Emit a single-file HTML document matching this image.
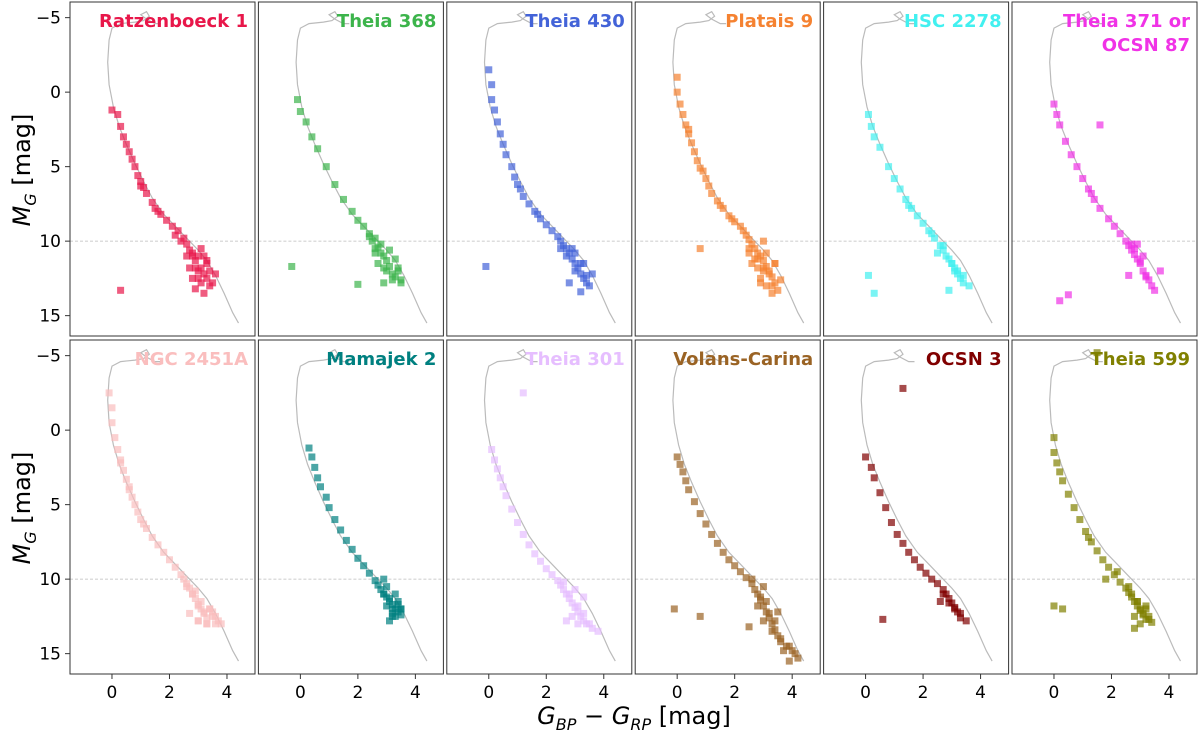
<!DOCTYPE html>
<html><head><meta charset="utf-8"><style>
body{margin:0;background:#fff;}
svg{display:block;font-family:"DejaVu Sans","Liberation Sans",sans-serif;}
</style></head><body>
<svg id="chart" width="1200" height="734" viewBox="0 0 1200 734">
<text x="30" y="170" font-size="24" transform="rotate(-90 30 170)" text-anchor="middle"><tspan font-style="italic">M</tspan><tspan font-style="italic" font-size="16" dy="6">G</tspan><tspan dy="-6"> [mag]</tspan></text>
<text x="30" y="508" font-size="24" transform="rotate(-90 30 508)" text-anchor="middle"><tspan font-style="italic">M</tspan><tspan font-style="italic" font-size="16" dy="6">G</tspan><tspan dy="-6"> [mag]</tspan></text>
<text x="634" y="724" font-size="24" text-anchor="middle"><tspan font-style="italic">G</tspan><tspan font-style="italic" font-size="16" dy="6">BP</tspan><tspan dy="-6"> − </tspan><tspan font-style="italic">G</tspan><tspan font-style="italic" font-size="16" dy="6">RP</tspan><tspan dy="-6"> [mag]</tspan></text>
</svg>
<script>
const clusterNames=["Ratzenboeck 1","Theia 368","Theia 430","Platais 9","HSC 2278","Theia 371 or|OCSN 87","NGC 2451A","Mamajek 2","Theia 301","Volans-Carina","OCSN 3","Theia 599"];
const clusterColors=["#e8174a","#3cb44b","#4363d8","#f58231","#42f0f0","#f032e6","#fabebe","#008080","#e6beff","#9a6324","#800000","#808000"];
const xTicks=[0,2,4];
const yTicks=[-5,0,5,10,15];
const isoX=[4.4,4.2,3.9,3.6,3.3,3.0,2.6,2.2,1.8,1.4,1.1,0.8,0.5,0.25,0.05,-0.1,-0.15,-0.1,0.0,0.3,0.8,1.1,1.3,1.2,1.0,1.2,1.5,1.7];
const isoM=[15.5,14.8,13.5,12.3,11.3,10.6,9.8,9.0,8.2,7.1,6.0,4.8,3.5,2.3,1.0,-0.5,-2.0,-3.5,-4.3,-4.6,-4.7,-4.8,-5.1,-5.4,-5.2,-4.9,-4.6,-4.6];
const bpRp=[
[0.0,0.2,0.3,0.4,0.5,0.6,0.7,0.8,0.9,1.0,1.1,1.2,1.4,1.5,1.7,1.9,2.1,2.3,2.4,2.6,2.7,2.8,2.9,3.0,3.0,3.1,3.2,3.3,3.4,3.5,2.9,3.2,3.6,3.3,3.1,2.7,0.3,2.5,2.8,3.4,2.6,2.9,3.1,3.3,3.0,2.8,3.2,1.0,1.6,2.2],
[-0.1,0.0,0.2,0.4,0.6,0.9,1.2,1.5,1.8,2.0,2.2,2.4,2.5,2.6,2.7,2.8,2.9,3.0,3.0,3.1,3.2,3.3,3.4,3.5,2.7,3.1,3.3,2.9,-0.3,2.0,3.5,2.6,2.6,2.9,3.2,3.4,2.4,2.8],
[0.0,0.1,0.1,0.2,0.3,0.4,0.5,0.6,0.8,0.9,1.0,1.2,1.4,1.6,1.8,2.0,2.2,2.4,2.5,2.6,2.7,2.8,2.9,3.0,3.0,3.1,3.2,3.3,3.4,3.5,2.8,3.2,3.3,-0.1,2.9,3.6,2.7,3.0,3.2,3.4,2.5,1.1,1.7],
[0.0,0.0,0.1,0.2,0.3,0.4,0.5,0.6,0.7,0.8,1.0,1.1,1.2,1.4,1.6,1.8,2.0,2.2,2.3,2.4,2.5,2.6,2.7,2.8,2.9,3.0,3.0,3.1,3.2,3.3,3.4,3.5,2.7,2.9,3.1,3.3,3.6,0.8,2.5,3.4,2.8,3.0,2.5,2.8,3.0,3.2,3.4,3.1,2.9,3.3,2.6,1.5,1.9,0.4,0.9],
[0.1,0.2,0.3,0.5,0.8,1.0,1.2,1.4,1.6,1.8,2.0,2.2,2.4,2.6,2.7,2.8,2.9,3.0,3.1,3.2,3.3,3.4,3.6,2.9,3.1,0.1,0.3,2.5,2.7,3.0,3.2,3.4,2.3,1.5],
[0.0,0.1,0.2,0.4,0.6,0.8,1.0,1.2,1.4,1.6,1.9,2.1,2.3,2.5,2.6,2.7,2.8,2.9,3.0,3.1,3.2,3.3,3.4,3.5,2.9,3.1,0.2,0.5,1.6,2.6,3.7,2.8,3.0,3.2,2.7,1.3],
[-0.1,0.0,0.0,0.1,0.2,0.3,0.4,0.5,0.6,0.7,0.8,0.9,1.0,1.2,1.4,1.6,1.8,2.0,2.2,2.4,2.5,2.6,2.7,2.8,2.9,3.0,3.1,3.2,3.3,3.4,3.5,3.6,3.7,2.9,3.1,3.3,3.5,2.7,3.0,2.8,3.0,3.2,3.4,3.6,3.3,3.0,2.6,1.1,0.3,0.6,3.8],
[0.3,0.4,0.5,0.6,0.7,0.9,1.0,1.2,1.4,1.6,1.8,2.0,2.2,2.4,2.6,2.7,2.8,2.9,3.0,3.1,3.2,3.3,3.4,3.5,3.0,3.2,3.4,3.1,3.3,2.9,3.5,3.2,3.2,3.4,3.3,3.1,3.5,2.9,3.0],
[0.1,0.2,0.3,0.4,0.5,0.6,0.8,1.0,1.2,1.4,1.6,1.8,2.0,2.2,2.4,2.5,2.6,2.7,2.8,2.9,3.0,3.1,3.2,3.3,3.4,3.6,2.9,3.1,3.3,3.8,1.2,2.7,2.8,3.1,3.3,3.5,3.0,2.6],
[0.0,0.1,0.2,0.3,0.4,0.6,0.8,1.0,1.2,1.4,1.6,1.8,2.0,2.2,2.4,2.6,2.7,2.8,2.9,3.0,3.1,3.2,3.3,3.4,3.5,3.6,3.8,4.0,4.2,3.0,3.3,3.7,3.9,2.9,-0.1,0.8,2.5,3.5,3.1,3.4,3.6,3.9,4.1,2.8,3.2,3.0,2.6],
[0.0,0.2,0.3,0.5,0.7,0.9,1.1,1.3,1.5,1.7,1.9,2.1,2.3,2.5,2.7,2.8,2.9,3.0,3.1,3.2,3.3,3.5,1.3,0.6,2.6,2.9,3.1,3.3,2.7],
[0.0,0.0,0.1,0.2,0.3,0.5,0.7,0.9,1.1,1.3,1.5,1.7,1.9,2.1,2.3,2.5,2.6,2.7,2.8,2.9,3.0,3.1,3.2,3.3,3.4,2.8,3.0,3.2,2.9,1.5,0.0,0.3,1.8,2.7,2.9,3.1,3.3,3.0,2.6,2.8,3.2,1.2,2.2]
];
const mG=[
[1.2,1.5,2.3,3.0,3.5,4.0,4.5,5.0,5.6,6.0,6.4,6.8,7.4,7.8,8.2,8.6,9.0,9.3,10.0,10.2,10.6,11.0,11.3,11.0,12.0,11.8,12.2,12.5,12.0,12.8,13.2,13.5,12.2,11.5,10.5,11.8,13.3,9.8,12.5,13.0,11.0,11.8,12.8,11.3,12.5,10.8,11.0,6.3,8.0,9.6],
[0.5,1.3,2.0,3.0,3.8,5.0,6.2,7.2,8.0,8.6,9.0,9.5,10.0,9.8,10.4,10.8,11.0,11.3,12.0,11.7,12.2,12.4,12.0,12.6,11.5,10.6,11.2,12.8,11.7,12.9,12.8,10.5,10.8,11.8,12.6,11.8,9.7,10.2],
[-1.5,-0.5,0.5,1.2,2.0,2.8,3.5,4.2,5.0,5.7,6.2,7.0,7.5,8.0,8.5,8.9,9.3,9.7,10.0,10.3,10.5,10.8,11.2,11.5,12.0,11.8,12.2,12.5,12.8,13.0,12.8,13.4,11.5,11.7,10.5,12.2,11.0,10.8,11.5,12.3,10.5,6.5,8.2],
[-1.0,0.0,0.8,1.5,2.2,2.8,3.4,4.0,4.6,5.1,5.8,6.3,6.8,7.3,7.8,8.3,8.7,9.0,9.3,9.6,9.9,10.2,10.5,10.8,11.0,11.3,12.0,11.7,12.0,12.4,12.8,13.3,11.2,12.5,13.0,13.5,12.6,10.5,10.8,11.5,11.8,10.0,10.5,11.2,11.8,12.2,11.5,10.8,12.8,13.0,11.5,7.6,8.5,2.5,5.3],
[1.5,2.3,3.0,3.7,5.0,5.8,6.5,7.2,7.8,8.3,8.8,9.3,9.8,10.3,10.6,11.0,11.2,11.5,11.8,12.2,12.5,12.8,13.0,13.3,12.0,12.3,13.5,10.8,10.3,11.5,12.0,12.3,9.5,7.6],
[0.8,1.5,2.2,3.3,4.2,5.0,5.8,6.5,7.2,7.8,8.5,9.0,9.5,10.0,10.3,10.6,10.9,11.2,11.5,12.0,12.3,12.6,13.0,13.3,10.2,11.0,14.0,13.6,2.2,12.3,12.0,10.5,11.4,12.4,10.2,6.8],
[-2.5,-1.5,-0.5,0.5,1.3,2.0,2.7,3.3,4.0,4.5,5.0,5.5,6.0,6.6,7.2,7.7,8.2,8.7,9.2,9.7,10.0,10.3,10.6,11.0,11.3,11.7,12.0,12.3,12.6,12.0,12.5,13.0,12.8,10.8,11.5,13.0,12.2,12.3,12.8,11.0,11.8,12.2,12.0,12.5,13.0,12.8,10.5,6.3,2.2,3.8,13.0],
[1.2,1.8,2.5,3.2,3.8,4.5,5.2,6.0,6.7,7.4,8.0,8.6,9.1,9.6,10.1,10.4,10.7,11.0,11.2,11.5,11.7,12.0,12.2,12.4,11.8,12.5,11.5,12.8,11.0,10.0,12.0,12.3,12.0,11.7,12.5,11.3,12.0,11.0,10.5],
[1.3,2.0,2.6,3.2,3.8,4.4,5.3,6.2,7.0,7.7,8.3,8.8,9.3,9.7,10.1,10.4,10.7,11.0,11.3,11.6,11.9,12.2,12.5,12.8,13.0,13.3,12.5,13.0,11.2,13.5,-2.5,12.8,11.0,11.8,12.3,13.0,10.7,10.2],
[1.8,2.3,2.8,3.4,4.0,4.8,5.6,6.3,7.0,7.6,8.2,8.7,9.1,9.5,9.9,10.3,10.7,11.0,11.4,11.8,12.2,12.6,13.0,13.4,13.8,14.2,14.5,14.8,15.3,12.8,13.5,14.8,15.5,11.2,12.0,12.5,13.2,12.2,11.5,12.8,14.0,14.5,15.0,11.8,12.3,10.5,10.0],
[1.8,2.5,3.2,4.2,5.2,6.2,7.0,7.6,8.2,8.7,9.2,9.6,10.0,10.3,10.7,11.0,11.3,11.6,11.9,12.2,12.6,12.8,-2.8,12.7,11.5,11.6,12.0,12.3,11.0],
[0.5,1.5,2.2,2.8,3.4,4.3,5.2,6.0,6.8,7.5,8.1,8.7,9.2,9.7,10.2,10.6,10.9,11.2,11.5,11.8,12.1,12.4,12.7,12.5,12.9,13.3,13.0,12.0,11.5,-5.2,11.8,12.0,10.0,11.0,11.5,12.3,12.7,12.0,10.5,12.5,11.8,7.2,9.5]
];
const svg=document.getElementById('chart');
const NS='http://www.w3.org/2000/svg';
function mk(tag,attrs,parent){const e=document.createElementNS(NS,tag);for(const k in attrs)e.setAttribute(k,attrs[k]);(parent||svg).appendChild(e);return e;}
const W=185,H=334;
for(let i=0;i<12;i++){
  const row=Math.floor(i/6),col=i%6;
  const left=70+col*188.4, top=row?340:2;
  const sx=x=>left+(x+1.46)*28.75;
  const sy=m=>top+(m+6.05)*14.9;
  const g=mk('g',{});
  
  
  const cp=mk('clipPath',{id:'cp'+i},g);mk('rect',{x:left,y:top,width:W,height:H},cp);
  const gl=mk('line',{x1:left,x2:left+W,y1:sy(10),y2:sy(10),stroke:'#bbb','stroke-width':0.8,'stroke-dasharray':'3,2'},g);
  
  
  let d='';isoX.forEach((x,k)=>{d+=(k?'L':'M')+sx(x).toFixed(1)+' '+sy(isoM[k]).toFixed(1);});
  const iso=mk('path',{d:d,fill:'none',stroke:'#bbb','stroke-width':1.2,'clip-path':'url(#cp'+i+')'},g);
  
  
  const xs=bpRp[i],ms=mG[i];
  for(let k=0;k<xs.length;k++){
    const p=mk('rect',{x:sx(xs[k])-3.5,y:sy(ms[k])-3.5,width:7,height:7,fill:clusterColors[i],'fill-opacity':0.7,'clip-path':'url(#cp'+i+')'},g);
    
    
  }
  const fr=mk('rect',{x:left,y:top,width:W,height:H,fill:'none',stroke:'#333','stroke-width':1},g);
  
  
  const lines=clusterNames[i].split('|');
  lines.forEach((t,li)=>{
    const tt=mk('text',{x:left+W-7,y:top+25+li*24,'text-anchor':'end','font-size':18,'font-weight':'bold',fill:clusterColors[i]},g);
    tt.textContent=t;
    
    
  });
  if(col===0){
    yTicks.forEach(v=>{
      mk('line',{x1:left-5,x2:left,y1:sy(v),y2:sy(v),stroke:'#333'},g);
      const t=mk('text',{x:left-9,y:sy(v)+6,'text-anchor':'end','font-size':17},g);
      t.textContent=v<0?'−'+Math.abs(v):String(v);
      
      
    });
  }
  if(row===1){
    xTicks.forEach(v=>{
      mk('line',{x1:sx(v),x2:sx(v),y1:top+H,y2:top+H+5,stroke:'#333'},g);
      const t=mk('text',{x:sx(v),y:top+H+24,'text-anchor':'middle','font-size':17},g);
      t.textContent=String(v);
      
      
    });
  }
}
</script>
</body></html>
